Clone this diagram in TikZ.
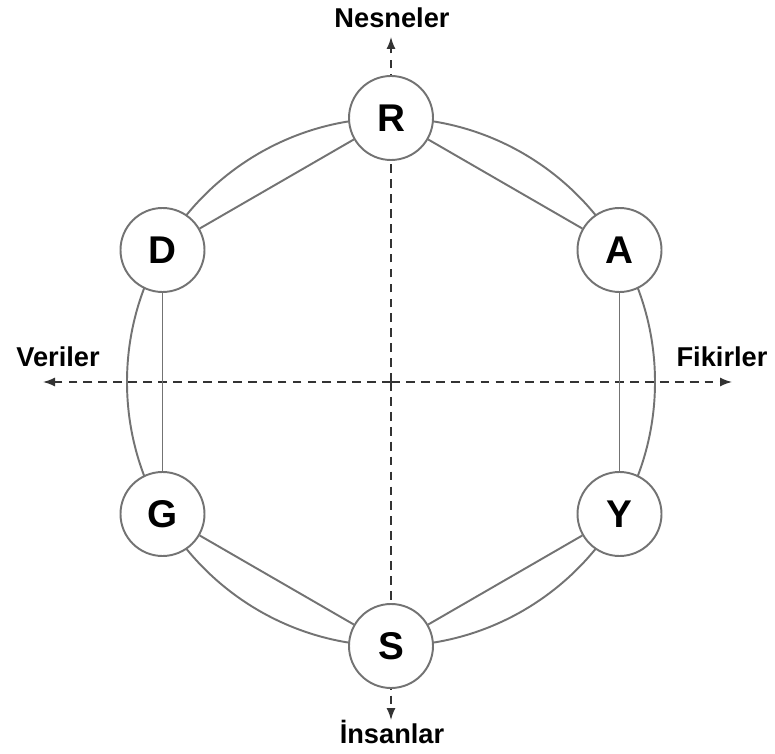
\documentclass[tikz,border=0pt]{standalone}
\usepackage{fontspec}
\setmainfont{Liberation Sans}
\usetikzlibrary{arrows.meta,backgrounds}
\tikzset{
  letter/.style={circle, draw=gray!90!black, line width=1.1pt, fill=white,
    minimum size=1.68cm, inner sep=0pt, font=\fontsize{22}{22}\selectfont\bfseries},
  axislabel/.style={font=\fontsize{15.5}{16}\selectfont\bfseries},
  ring/.style={draw=gray!90!black, line width=1.1pt},
  axis/.style={dash pattern=on 5pt off 3.5pt, line width=0.8pt, black!80, -{Latex[length=2.4mm,width=1.8mm]}}
}
\begin{document}
\begin{tikzpicture}
\useasboundingbox (0,0) rectangle (15.5,-15.08);
\node[letter] (R) at (7.82, -2.36) {R};
\node[letter] (A) at (12.39, -5.00) {A};
\node[letter] (Y) at (12.39, -10.28) {Y};
\node[letter] (S) at (7.82, -12.92) {S};
\node[letter] (G) at (3.25, -10.28) {G};
\node[letter] (D) at (3.25, -5.00) {D};

\node[axislabel] (nes) at (7.84, -0.36) {Nesneler};
\node[axislabel] (ins) at (7.84, -14.64) {İnsanlar};
\node[axislabel] (ver) at (1.16, -7.14) {Veriler};
\node[axislabel] (fik) at (14.44, -7.14) {Fikirler};

\coordinate (top) at (7.82, -0.74);
\coordinate (bot) at (7.82, -14.40);
\coordinate (lft) at (0.86, -7.64);
\coordinate (rgt) at (14.64, -7.64);
\coordinate (mid) at (7.82, -7.64);

\begin{scope}[on background layer]
\draw[ring] (mid) circle (5.28);
\draw[axis] (mid) -- (top);
\draw[axis] (mid) -- (bot);
\draw[axis] (mid) -- (lft);
\draw[axis] (mid) -- (rgt);
\end{scope}

\draw[ring] (R) to (A);
\draw[ring] (A) to (Y);
\draw[ring] (Y) to (S);
\draw[ring] (S) to (G);
\draw[ring] (G) to (D);
\draw[ring] (D) to (R);
\end{tikzpicture}
\end{document}
